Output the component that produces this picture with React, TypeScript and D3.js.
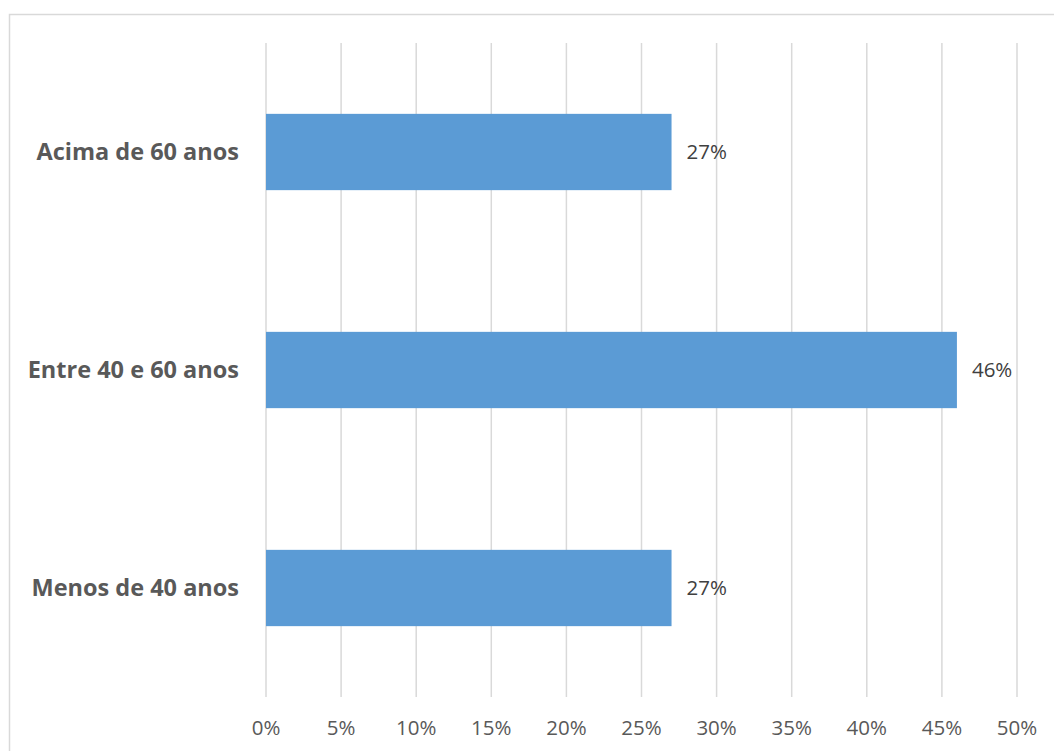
import React from "react";
import * as d3 from "d3";

const categories = ["Acima de 60 anos", "Entre 40 e 60 anos", "Menos de 40 anos"];
const values = [27, 46, 27];
const ticks = [0, 5, 10, 15, 20, 25, 30, 35, 40, 45, 50];

export default function App() {
  const W = 1054, H = 751;
  const x = d3.scaleLinear().domain([0, 50]).range([266, 1017]);
  const y = d3.scaleBand().domain(categories).range([43, 697]).paddingInner(0.65).paddingOuter(0.325);
  const font = "'Open Sans', sans-serif";
  return (
    <svg width={W} height={H} style={{ position: "absolute", left: 0, top: 0 }}>
      <rect x={0} y={0} width={W} height={H} fill="#fff" />
      <rect x={9.5} y={14.5} width={W + 10} height={H + 10} fill="#fff" stroke="#d9d9d9" strokeWidth={1.5} />
      {ticks.map((t) => (
        <line key={t} x1={x(t)} x2={x(t)} y1={43} y2={697} stroke="#d9d9d9" strokeWidth={1.5} />
      ))}
      {categories.map((c, i) => (
        <g key={c}>
          <rect x={x(0)} y={y(c)!} width={x(values[i]) - x(0)} height={y.bandwidth()} fill="#5B9BD5" />
          <text x={x(values[i]) + 15} y={y(c)! + y.bandwidth() / 2} dy="0.35em" fontFamily={font} fontSize={20.5} fill="#404040">
            {values[i]}%
          </text>
          <text x={239} y={y(c)! + y.bandwidth() / 2} dy="0.35em" textAnchor="end" fontFamily={font} fontWeight="bold" fontSize={23.5} fill="#595959">
            {c}
          </text>
        </g>
      ))}
      {ticks.map((t) => (
        <text key={t} x={x(t)} y={728} dy="0.35em" textAnchor="middle" fontFamily={font} fontSize={20.5} fill="#595959">
          {t}%
        </text>
      ))}
    </svg>
  );
}
